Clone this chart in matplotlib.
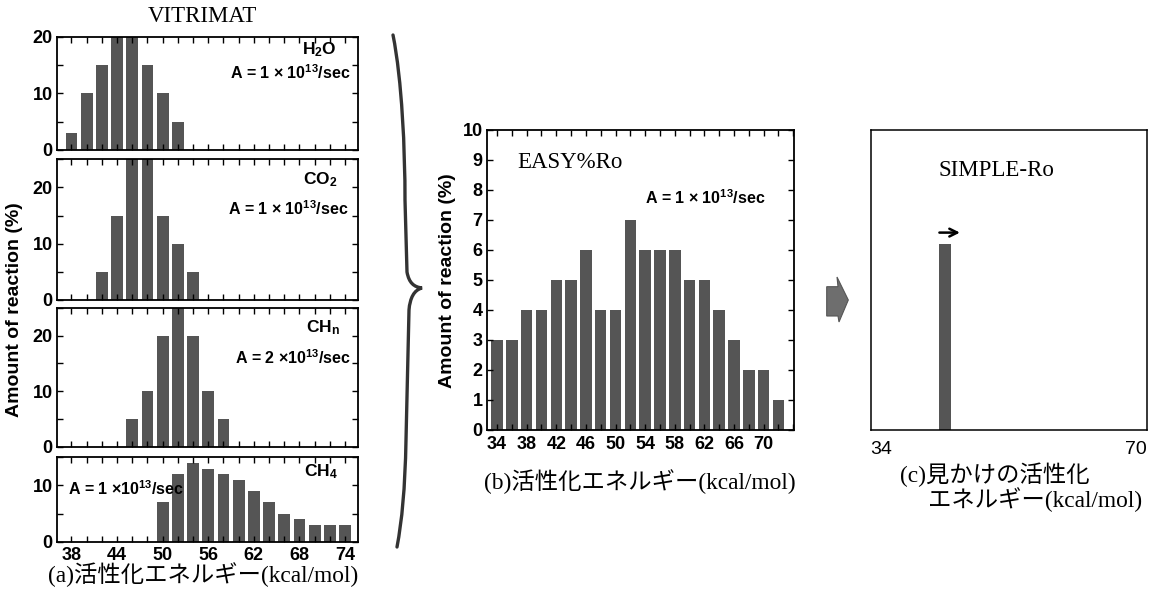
import numpy as np
import matplotlib
matplotlib.use("Agg")
import matplotlib.pyplot as plt
from matplotlib import rcParams
from matplotlib.path import Path
from matplotlib.patches import PathPatch, Polygon
from matplotlib.ticker import MultipleLocator

rcParams['font.family'] = ['Liberation Sans', 'DejaVu Sans']
rcParams['font.weight'] = 'bold'
rcParams['mathtext.fontset'] = 'custom'
rcParams['mathtext.rm'] = 'Liberation Sans:bold'
rcParams['mathtext.it'] = 'Liberation Sans:bold'
rcParams['mathtext.bf'] = 'Liberation Sans:bold'

# ---- data ----
# (a) VITRIMAT, activation energy (kcal/mol) vs amount of reaction (%)
h2o_x = [38, 40, 42, 44, 46, 48, 50, 52]
h2o_y = [3, 10, 15, 20, 20, 15, 10, 5]
co2_x = [42, 44, 46, 48, 50, 52, 54]
co2_y = [5, 15, 25, 25, 15, 10, 5]
chn_x = [46, 48, 50, 52, 54, 56, 58]
chn_y = [5, 10, 20, 30, 20, 10, 5]
ch4_x = [50, 52, 54, 56, 58, 60, 62, 64, 66, 68, 70, 72, 74]
ch4_y = [7, 12, 14, 13, 12, 11, 9, 7, 5, 4, 3, 3, 3]
a_xticks = [38, 44, 50, 56, 62, 68, 74]

# (b) EASY%Ro
easy_x = [34, 36, 38, 40, 42, 44, 46, 48, 50, 52,
          54, 56, 58, 60, 62, 64, 66, 68, 70, 72]
easy_y = [3, 3, 4, 4, 5, 5, 6, 4, 4, 7,
          6, 6, 6, 5, 5, 4, 3, 2, 2, 1]
b_xticks = [34, 38, 42, 46, 50, 54, 58, 62, 66, 70]

# (c) SIMPLE-Ro
simple_x = [43.7]
simple_y = [6.2]
c_xticks = [34, 70]

BAR = '#555555'
JP = ['Liberation Serif', 'Noto Sans CJK JP']
W, H = 1157, 595
fig = plt.figure(figsize=(W / 100, H / 100), dpi=100)


def px_axes(l, t, r, b):
    return fig.add_axes([l / W, 1 - b / H, (r - l) / W, (b - t) / H])


def ptext(x, y, s, **kw):
    return fig.text(x / W, 1 - y / H, s, **kw)


def style_axes(ax):
    for sp in ax.spines.values():
        sp.set_linewidth(1.3)
    ax.tick_params(which='both', direction='in', top=True, right=True,
                   length=4, width=1, labelsize=13)
    ax.tick_params(axis='x', pad=4)
    ax.tick_params(axis='y', pad=3)


# ---- (a) four stacked panels ----
panels = [
    (h2o_x, h2o_y, 20, [0, 10, 20], (36.7, 150)),
    (co2_x, co2_y, 25, [0, 10, 20], (159.3, 300)),
    (chn_x, chn_y, 25, [0, 10, 20], (308, 446.7)),
    (ch4_x, ch4_y, 15, [0, 10], (457.3, 541.7)),
]
for i, (xs, ys, top, yt, (t, b)) in enumerate(panels):
    ax = px_axes(57, t, 358, b)
    ax.bar(xs, ys, width=1.55, color=BAR)
    ax.set_xlim(36.1, 75.7)
    ax.set_ylim(0, top)
    ax.set_yticks(yt)
    ax.yaxis.set_minor_locator(MultipleLocator(5))
    ax.set_xticks(a_xticks)
    ax.xaxis.set_minor_locator(MultipleLocator(2))
    style_axes(ax)
    if i < 3:
        ax.tick_params(axis='x', labelbottom=False)

ptext(337, 50, r'H$_2$O', ha='right', va='center', fontsize=12.5)
ptext(350, 73, r'A = 1 × 10$^{13}$/sec', ha='right', va='center', fontsize=11.5)
ptext(337, 180, r'CO$_2$', ha='right', va='center', fontsize=12.5)
ptext(348, 209, r'A = 1 × 10$^{13}$/sec', ha='right', va='center', fontsize=11.5)
ptext(340, 328, r'CH$_n$', ha='right', va='center', fontsize=12.5)
ptext(351, 358, r'A = 2 ×10$^{13}$/sec', ha='right', va='center', fontsize=11.5)
ptext(338, 472, r'CH$_4$', ha='right', va='center', fontsize=12.5)
ptext(68, 489, r'A = 1 ×10$^{13}$/sec', ha='left', va='center', fontsize=11.5)

ptext(202, 16, 'VITRIMAT', ha='center', va='center', fontsize=16.5,
      family='Liberation Serif', weight='normal')
ptext(15, 310, 'Amount of reaction (%)', ha='center', va='center',
      rotation=90, fontsize=14)
ptext(203, 575, '(a)活性化エネルギー(kcal/mol)', ha='center', va='center',
      fontsize=16.8, family=JP, weight='normal')

# ---- brace between (a) and (b) ----
brace = [(393, 35), (402, 80), (405, 150), (405, 200),
         (407, 272),
         (409, 283), (414, 287), (422, 288),
         (414, 290), (410, 298), (409, 310),
         (406, 440),
         (405, 490), (402, 520), (397, 547)]
codes = [Path.MOVETO, Path.CURVE4, Path.CURVE4, Path.CURVE4,
         Path.LINETO,
         Path.CURVE4, Path.CURVE4, Path.CURVE4,
         Path.CURVE4, Path.CURVE4, Path.CURVE4,
         Path.LINETO,
         Path.CURVE4, Path.CURVE4, Path.CURVE4]
verts = [(x / W, 1 - y / H) for x, y in brace]
fig.add_artist(PathPatch(Path(verts, codes), transform=fig.transFigure,
                         fill=False, lw=2.4, ec='#333333', capstyle='round'))

# ---- (b) EASY%Ro ----
axb = px_axes(486.7, 130, 794, 430)
axb.bar(easy_x, easy_y, width=1.55, color=BAR)
axb.set_xlim(32.6, 74.1)
axb.set_ylim(0, 10)
axb.set_yticks(np.arange(0, 11, 1))
axb.set_xticks(b_xticks)
axb.xaxis.set_minor_locator(MultipleLocator(2))
style_axes(axb)
axb.text(0.1, 0.89, 'EASY%Ro', transform=axb.transAxes, ha='left', va='center',
         fontsize=16.5, family='Liberation Serif', weight='normal')
ptext(645, 198, r'A = 1 × 10$^{13}$/sec', ha='left', va='center', fontsize=11.5)
ptext(448, 281, 'Amount of reaction (%)', ha='center', va='center',
      rotation=90, fontsize=14)
ptext(640, 482, '(b)活性化エネルギー(kcal/mol)', ha='center', va='center',
      fontsize=16.8, family=JP, weight='normal')

# ---- block arrow ----
arrow = [(826.7, 286.7), (838, 286.7), (837, 277), (848.3, 300),
         (839, 322), (838, 316), (826.7, 316)]
fig.add_artist(Polygon([(x / W, 1 - y / H) for x, y in arrow], closed=True,
                       transform=fig.transFigure, fc='#6e6e6e', ec='#555555',
                       lw=0.8))

# ---- (c) SIMPLE-Ro ----
axc = px_axes(870.7, 130, 1146.7, 430)
axc.bar(simple_x, simple_y, width=1.5, color=BAR)
axc.set_xlim(34, 70)
axc.set_ylim(0, 10)
axc.set_yticks([])
axc.set_xticks(c_xticks)
axc.set_xticklabels([str(v) for v in c_xticks])
for sp in axc.spines.values():
    sp.set_linewidth(1.1)
axc.tick_params(axis='x', length=0, pad=8, labelsize=14)
xl = axc.get_xticklabels()
xl[0].set_ha('left')
xl[-1].set_ha('right')
for lbl in xl:
    lbl.set_fontweight('normal')
axc.annotate('', xy=(46.0, 6.58), xytext=(42.6, 6.58),
             arrowprops=dict(arrowstyle='->', lw=1.8, color='black',
                             mutation_scale=14))
ptext(996.7, 170, 'SIMPLE-Ro', ha='center', va='center', fontsize=16.5,
      family='Liberation Serif', weight='normal')
ptext(900, 475, '(c)見かけの活性化', ha='left', va='center', fontsize=16.8,
      family=JP, weight='normal')
ptext(928, 500, 'エネルギー(kcal/mol)', ha='left', va='center', fontsize=16.8,
      family=JP, weight='normal')

fig.savefig('out.png', dpi=100)
